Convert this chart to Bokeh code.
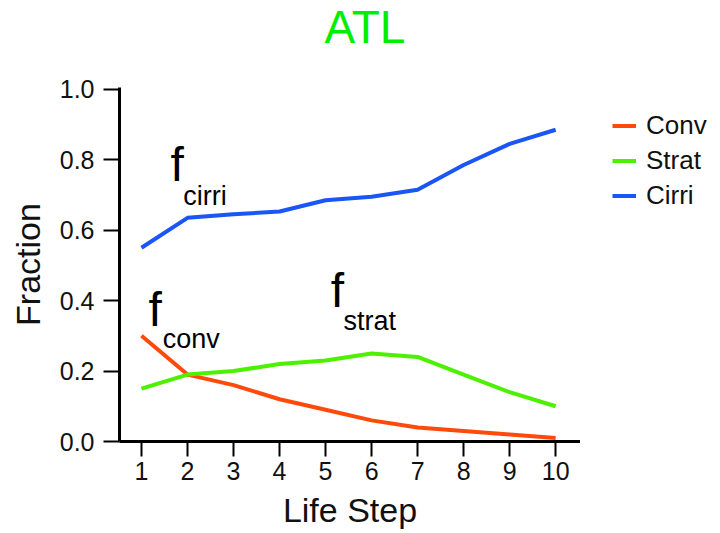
from bokeh.plotting import figure
from bokeh.layouts import column, row
from bokeh.models import (Range1d, FixedTicker, PrintfTickFormatter, Legend,
                          LegendItem, ColumnDataSource)
from bokeh.core.properties import value
from bokeh.embed import file_html
from bokeh.resources import INLINE

FONT = "Liberation Sans"

life_step = [1, 2, 3, 4, 5, 6, 7, 8, 9, 10]
conv = [0.30, 0.19, 0.16, 0.12, 0.09, 0.06, 0.04, 0.03, 0.02, 0.01]
strat = [0.15, 0.19, 0.20, 0.22, 0.23, 0.25, 0.24, 0.19, 0.14, 0.10]
cirri = [0.55, 0.635, 0.645, 0.653, 0.685, 0.695, 0.715, 0.785, 0.845, 0.885]

series_names = ["Conv", "Strat", "Cirri"]
series_colors = ["#ff4a0a", "#4cf000", "#1a55f5"]

y_ticks = [0.0, 0.2, 0.4, 0.6, 0.8, 1.0]

title_text = "ATL"

# annotation labels: main letter and subscript, positioned in data units
ann_main_text = ["f", "f", "f"]
ann_main_x = [1.63, 1.15, 5.11]
ann_main_y = [0.786, 0.376, 0.428]
ann_sub_text = ["cirri", "conv", "strat"]
ann_sub_x = [1.91, 1.46, 5.39]
ann_sub_y = [0.698, 0.291, 0.343]

TOTAL_W, TOTAL_H = 720, 533
TITLE_H = 60
MAIN_W = 580
LEG_W = TOTAL_W - MAIN_W
BODY_H = TOTAL_H - TITLE_H

# ---------------- title strip ----------------
pt = figure(width=TOTAL_W, height=TITLE_H, output_backend="svg",
            toolbar_location=None, x_axis_location=None, y_axis_location=None,
            x_range=Range1d(0, TOTAL_W), y_range=Range1d(0, TITLE_H),
            min_border=0, outline_line_color=None)
pt.grid.visible = False
pt.text(x=[324], y=[33.3], text=[title_text], text_font=value(FONT),
        text_font_size="46px", text_color="#00ee00", text_align="left",
        text_baseline="alphabetic")

# ---------------- main plot ----------------
p = figure(width=MAIN_W, height=BODY_H, output_backend="svg",
           toolbar_location=None,
           x_range=Range1d(0.522, 10.54), y_range=Range1d(0.0, 1.005),
           min_border_left=119, min_border_right=0, min_border_top=27,
           min_border_bottom=92)
p.outline_line_color = None
p.grid.visible = False

for ax in (p.xaxis[0], p.yaxis[0]):
    ax.axis_line_width = 3
    ax.axis_line_color = "black"
    ax.major_tick_line_width = 2
    ax.major_tick_line_color = "black"
    ax.major_tick_in = 0
    ax.minor_tick_line_color = None
    ax.major_label_text_font = FONT
    ax.major_label_text_font_size = "25px"
    ax.major_label_text_color = "#111111"
    ax.axis_label_text_font = FONT
    ax.axis_label_text_font_size = "34px"
    ax.axis_label_text_font_style = "normal"
    ax.axis_label_text_color = "#111111"

p.xaxis.ticker = FixedTicker(ticks=life_step)
p.xaxis.major_tick_out = 15
p.xaxis.major_label_standoff = 5
p.xaxis.axis_label = "Life Step"
p.xaxis.axis_label_standoff = 8

p.yaxis.ticker = FixedTicker(ticks=y_ticks)
p.yaxis.formatter = PrintfTickFormatter(format="%.1f")
p.yaxis.major_tick_out = 16
p.yaxis.major_label_standoff = 9
p.yaxis.axis_label = "Fraction"
p.yaxis.axis_label_standoff = 10

for name, vals, col in zip(series_names, [conv, strat, cirri], series_colors):
    p.line(life_step, vals, line_color=col, line_width=4)

src_main = ColumnDataSource(dict(x=ann_main_x, y=ann_main_y, t=ann_main_text))
src_sub = ColumnDataSource(dict(x=ann_sub_x, y=ann_sub_y, t=ann_sub_text))
p.text(x="x", y="y", text="t", source=src_main, text_font=value(FONT),
       text_font_size="48px", text_color="black", text_baseline="alphabetic",
       text_align="left")
p.text(x="x", y="y", text="t", source=src_sub, text_font=value(FONT),
       text_font_size="27px", text_color="black", text_baseline="alphabetic",
       text_align="left")

# ---------------- legend strip ----------------
pl = figure(width=LEG_W, height=BODY_H, output_backend="svg",
            toolbar_location=None, x_axis_location=None, y_axis_location=None,
            x_range=Range1d(0.522, 10.54), y_range=Range1d(0.0, 1.005),
            min_border=0, outline_line_color=None)
pl.grid.visible = False
items = []
for name, vals, col in zip(series_names, [conv, strat, cirri], series_colors):
    r = pl.line(life_step, vals, line_color=col, line_width=4, visible=False)
    items.append(LegendItem(label=name, renderers=[r]))

legend = Legend(items=items, location=(32, 228), orientation="vertical",
                glyph_width=24, glyph_height=35, label_height=35,
                label_standoff=10, spacing=0, padding=0, margin=0,
                border_line_color=None, background_fill_alpha=0,
                inactive_fill_alpha=0,
                label_text_font=FONT, label_text_font_size="26px",
                label_text_color="#111111")
pl.add_layout(legend, "center")

layout = column(pt, row(p, pl, spacing=0), spacing=0)
open("out.html", "w").write(file_html(layout, INLINE))
